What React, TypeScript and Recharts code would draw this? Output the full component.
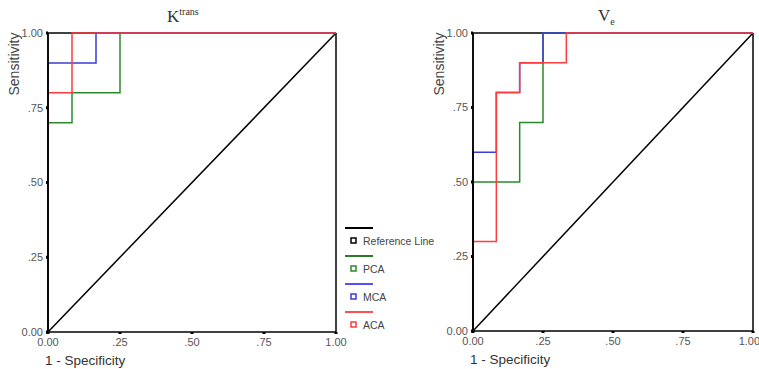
import { LineChart, Line, XAxis, YAxis, CartesianGrid, Label, ReferenceLine } from "recharts";

// ROC curves: 1 - specificity (fpr) and sensitivity (tpr)
const axisTicks = [0, 0.25, 0.5, 0.75, 1];
const refFpr = [0, 1];
const refTpr = [0, 1];

const ktransPcaFpr = [0, 0, 1 / 12, 1 / 12, 0.25, 0.25, 1];
const ktransPcaTpr = [0, 0.7, 0.7, 0.8, 0.8, 1, 1];
const ktransMcaFpr = [0, 0, 1 / 6, 1 / 6, 1];
const ktransMcaTpr = [0, 0.9, 0.9, 1, 1];
const ktransAcaFpr = [0, 0, 1 / 12, 1 / 12, 1];
const ktransAcaTpr = [0, 0.8, 0.8, 1, 1];

const vePcaFpr = [0, 0, 1 / 6, 1 / 6, 0.25, 0.25, 1];
const vePcaTpr = [0, 0.5, 0.5, 0.7, 0.7, 1, 1];
const veMcaFpr = [0, 0, 1 / 12, 1 / 12, 1 / 6, 1 / 6, 0.25, 0.25, 1];
const veMcaTpr = [0, 0.6, 0.6, 0.8, 0.8, 0.9, 0.9, 1, 1];
const veAcaFpr = [0, 0, 1 / 12, 1 / 12, 1 / 6, 1 / 6, 1 / 3, 1 / 3, 1];
const veAcaTpr = [0, 0.3, 0.3, 0.8, 0.8, 0.9, 0.9, 1, 1];

const seriesNames = ["Reference Line", "PCA", "MCA", "ACA"];

const toPoints = (fpr: number[], tpr: number[]) => fpr.map((x, i) => ({ x, y: tpr[i] }));

const GREEN = "#2a8a2a";
const BLUE = "#3c3cd8";
const RED = "#ff3b3b";
const seriesColors = ["#000", GREEN, BLUE, RED];
const legendLineColors = ["#000", "#2a7a2a", "#5050ff", "#ff5050"];
const FONT = "'Liberation Sans', Arial, sans-serif";

const fmt = (v: number) => (v === 0 ? "0.00" : v === 1 ? "1.00" : "." + Math.round(v * 100));

const tickStyle = { fontSize: 11, fill: "#555", fontFamily: FONT };

const LegendBox = () => (
  <svg width={95} height={112} style={{ fontFamily: FONT, display: "block" }}>
    {seriesNames.map((name, i) => (
      <g key={name} transform={`translate(0, ${i * 28})`}>
        <line x1={0} x2={28} y1={6} y2={6} stroke={legendLineColors[i]} strokeWidth={2} />
        <rect x={6} y={16} width={5} height={5} fill="none" stroke={seriesColors[i]} strokeWidth={1.5} />
        <text x={18} y={23} fontSize={10.5} fill="#444">
          {name}
        </text>
      </g>
    ))}
  </svg>
);

const YLabel = (props: any) => {
  const vb = props.viewBox;
  const cx = vb.x + vb.width - 34;
  const cy = vb.y + 31;
  return (
    <text x={cx} y={cy} transform={`rotate(-90, ${cx}, ${cy})`} textAnchor="middle" dominantBaseline="central"
      fontSize={14} fill="#444" fontFamily={FONT}>
      Sensitivity
    </text>
  );
};

const XLabel = (props: any) => {
  const vb = props.viewBox;
  return (
    <text x={vb.x - 3} y={vb.y + 33} fontSize={13.5} fill="#333" fontFamily={FONT}>
      1 - Specificity
    </text>
  );
};

interface RocProps {
  width: number;
  yAxisWidth: number;
  xAxisHeight: number;
  right: number;
  pca: { x: number; y: number }[];
  mca: { x: number; y: number }[];
  aca: { x: number; y: number }[];
}

const RocChart = ({ width, yAxisWidth, xAxisHeight, right, pca, mca, aca }: RocProps) => (
  <LineChart width={width} height={369} margin={{ top: 33, right, left: 0, bottom: 0 }}>
    <CartesianGrid stroke="#000" strokeWidth={1.5} horizontalValues={[1]} verticalValues={[1]} />
    <XAxis
      type="number"
      dataKey="x"
      domain={[0, 1]}
      ticks={axisTicks}
      tickFormatter={fmt}
      height={xAxisHeight}
      axisLine={{ stroke: "#000", strokeWidth: 1.5 }}
      tickLine={{ stroke: "#000", strokeWidth: 3 }}
      tickSize={2}
      tickMargin={4}
      tick={tickStyle}
    >
      <Label content={<XLabel />} />
    </XAxis>
    <YAxis
      type="number"
      dataKey="y"
      domain={[0, 1]}
      ticks={axisTicks}
      tickFormatter={fmt}
      width={yAxisWidth}
      axisLine={{ stroke: "#000", strokeWidth: 1.5 }}
      tickLine={{ stroke: "#000", strokeWidth: 3 }}
      tickSize={2}
      tickMargin={3}
      tick={tickStyle}
    >
      <Label content={<YLabel />} />
    </YAxis>
    <Line data={toPoints(refFpr, refTpr)} dataKey="y" name={seriesNames[0]} stroke={seriesColors[0]} strokeWidth={1.5} dot={false} isAnimationActive={false} />
    <Line data={pca} dataKey="y" name={seriesNames[1]} stroke={seriesColors[1]} strokeWidth={1.5} dot={false} isAnimationActive={false} />
    <Line data={mca} dataKey="y" name={seriesNames[2]} stroke={seriesColors[2]} strokeWidth={1.5} dot={false} isAnimationActive={false} />
    <Line data={aca} dataKey="y" name={seriesNames[3]} stroke={seriesColors[3]} strokeWidth={1.5} dot={false} isAnimationActive={false} />
    <ReferenceLine x={0} stroke="#000" strokeWidth={1.5} />
  </LineChart>
);

const serif = "'Liberation Serif', 'Times New Roman', serif";

export default function App() {
  return (
    <div style={{ position: "absolute", left: 0, top: 0, width: 759, height: 369, background: "#fff", overflow: "hidden" }}>
      <div style={{ position: "absolute", left: 0, top: 0 }}>
        <RocChart
          width={352}
          yAxisWidth={48}
          xAxisHeight={37}
          right={16}
          pca={toPoints(ktransPcaFpr, ktransPcaTpr)}
          mca={toPoints(ktransMcaFpr, ktransMcaTpr)}
          aca={toPoints(ktransAcaFpr, ktransAcaTpr)}
        />
      </div>
      <div style={{ position: "absolute", left: 420, top: 0 }}>
        <RocChart
          width={339}
          yAxisWidth={53}
          xAxisHeight={38}
          right={6}
          pca={toPoints(vePcaFpr, vePcaTpr)}
          mca={toPoints(veMcaFpr, veMcaTpr)}
          aca={toPoints(veAcaFpr, veAcaTpr)}
        />
      </div>
      <div style={{ position: "absolute", left: 345, top: 222 }}>
        <LegendBox />
      </div>
      <div style={{ position: "absolute", left: 167, top: 6, fontFamily: serif, color: "#333", fontSize: 17 }}>
        K<sup style={{ fontSize: 10 }}>trans</sup>
      </div>
      <div style={{ position: "absolute", left: 598, top: 6, fontFamily: serif, color: "#333", fontSize: 17 }}>
        V<sub style={{ fontSize: 10 }}>e</sub>
      </div>
    </div>
  );
}
